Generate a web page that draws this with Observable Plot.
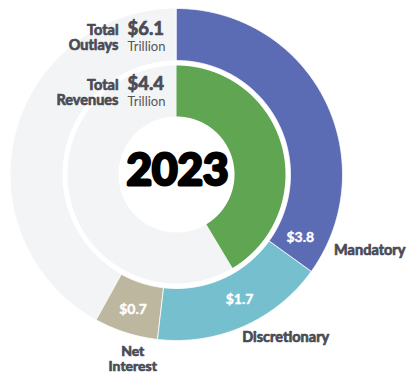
<!DOCTYPE html>
<html>
<head>
<meta charset="utf-8">
<script src="https://cdn.jsdelivr.net/npm/d3@7"></script>
<script src="https://cdn.jsdelivr.net/npm/@observablehq/plot@0.6"></script>
<style>
  html, body { margin: 0; padding: 0; background: #fff; }
  #chart svg { display: block; }
</style>
</head>
<body>
<div id="chart"></div>
<script>
// ---- data ----
const year = "2023";
const outlayCategories = ["Mandatory", "Discretionary", "Net Interest"];
const outlayValues = [3.74, 1.81, 0.66];        // trillions (arc sizes)
const outlayValueLabels = ["$3.8", "$1.7", "$0.7"];
const revenueValue = 4.43;                      // trillions
const circleTotal = 10.7;                       // value represented by a full turn
const totalNames = ["Total\nOutlays", "Total\nRevenues"];
const totalValueLabels = ["$6.1", "$4.4"];
const totalUnits = ["Trillion", "Trillion"];

// ---- style / layout ----
const colors = ["#5b6bb4", "#75bfcf", "#bdb7a0"];
const revenueColor = "#5fa552";
const restColor = "#f3f4f6";
const textColor = "#4a4b55";
const R = {outerOut: 166, outerIn: 114, innerOut: 109, innerIn: 58};
const valueLabelFrac = [0.93, 0.45, 0.5];
const valueLabelRadius = [139, 140, 142];
const nameFrac = [0.92, 0.53, 0.3];
const nameRadius = [175, 176, 189];
const nameAnchor = ["start", "start", "middle"];
const totalRows = [-137, -82];   // vertical position of each totals block (relative to centre)

const angle = d3.scaleLinear().domain([0, circleTotal]).range([0, 2 * Math.PI]);
const polar = (r, a) => [r * Math.sin(a), -r * Math.cos(a)];

function arcPoints(key, a0, a1, r0, r1) {
  const pts = [];
  const n = Math.max(2, Math.ceil((a1 - a0) / (Math.PI / 360)));
  for (let i = 0; i <= n; i++) {
    const a = a0 + (a1 - a0) * i / n;
    const [x, y] = polar(r1, a);
    pts.push({key, x, y});
  }
  for (let i = n; i >= 0; i--) {
    const a = a0 + (a1 - a0) * i / n;
    const [x, y] = polar(r0, a);
    pts.push({key, x, y});
  }
  return pts;
}

// outer ring segments
const cum = d3.cumsum(outlayValues);
const outlaySegs = outlayCategories.map((c, i) => ({
  key: c, color: colors[i],
  a0: angle(i === 0 ? 0 : cum[i - 1]), a1: angle(cum[i])
}));
const outlayTotal = cum[cum.length - 1];

const outerRest = arcPoints("outerRest", angle(outlayTotal), angle(circleTotal), R.outerIn, R.outerOut);
const innerRest = arcPoints("innerRest", angle(revenueValue), angle(circleTotal), R.innerIn, R.innerOut);
const revenueArc = arcPoints("Revenues", angle(0), angle(revenueValue), R.innerIn, R.innerOut);
const outlayArcs = outlaySegs.flatMap(s => arcPoints(s.key, s.a0, s.a1, R.outerIn, R.outerOut)
  .map(p => ({...p, color: s.color})));

const valueLabels = outlaySegs.map((s, i) => {
  const a = s.a0 + (s.a1 - s.a0) * valueLabelFrac[i];
  const [x, y] = polar(valueLabelRadius[i], a);
  return {x, y, text: outlayValueLabels[i]};
});
const nameLabels = outlaySegs.map((s, i) => {
  const a = s.a0 + (s.a1 - s.a0) * nameFrac[i];
  const [x, y] = polar(nameRadius[i], a);
  return {x, y, text: outlayCategories[i].replace(" ", "\n"), anchor: nameAnchor[i]};
});
const totals = totalNames.map((n, i) => ({name: n, value: totalValueLabels[i], unit: totalUnits[i], y: totalRows[i]}));

const heavy = {stroke: textColor, strokeWidth: 0.7, paintOrder: "stroke"};

const chart = Plot.plot({
  width: 418,
  height: 375,
  margin: 0,
  style: {fontFamily: "Lato, sans-serif", background: "#fff"},
  x: {domain: [-176, 242], range: [0, 418], axis: null},
  y: {domain: [-174, 201], range: [0, 375], axis: null},
  marks: [
    Plot.line(outerRest, {x: "x", y: "y", z: "key", fill: restColor, stroke: "none", curve: "linear-closed"}),
    Plot.line(innerRest, {x: "x", y: "y", z: "key", fill: restColor, stroke: "none", curve: "linear-closed"}),
    Plot.line(revenueArc, {x: "x", y: "y", z: "key", fill: revenueColor, stroke: "none", curve: "linear-closed"}),
    Plot.line(outlayArcs, {x: "x", y: "y", z: "key", fill: "color", stroke: "#ffffff", strokeWidth: 0.8, curve: "linear-closed"}),
    Plot.text(valueLabels, {x: "x", y: "y", text: "text", fill: "white", stroke: "white", strokeWidth: 0.4, paintOrder: "stroke", fontSize: 14, fontWeight: 700}),
    Plot.text(nameLabels.filter(d => d.anchor === "start"), {x: "x", y: "y", text: "text", textAnchor: "start", fill: textColor, fontSize: 14.5, fontWeight: 700, ...heavy}),
    Plot.text(nameLabels.filter(d => d.anchor === "middle"), {x: "x", y: "y", text: "text", textAnchor: "middle", fill: textColor, fontSize: 14, fontWeight: 700, lineHeight: 1.1, ...heavy}),
    Plot.text([year], {x: () => 1, y: () => -4, text: d => d, fill: "#000", stroke: "#000", strokeWidth: 3, paintOrder: "stroke", fontSize: 44, fontWeight: 700}),
    Plot.text(totals, {x: () => -58, y: "y", text: "name", textAnchor: "end", fill: textColor, fontSize: 14.5, fontWeight: 700, lineHeight: 1.08, ...heavy}),
    Plot.text(totals, {x: () => -49, y: "y", dy: -8.5, text: "value", textAnchor: "start", fill: textColor, fontSize: 18.5, fontWeight: 700, ...heavy}),
    Plot.text(totals, {x: () => -49, y: "y", dy: 9.5, text: "unit", textAnchor: "start", fill: "#555", fontSize: 13, fontWeight: 400})
  ]
});
document.getElementById("chart").appendChild(chart);
</script>
</body>
</html>
